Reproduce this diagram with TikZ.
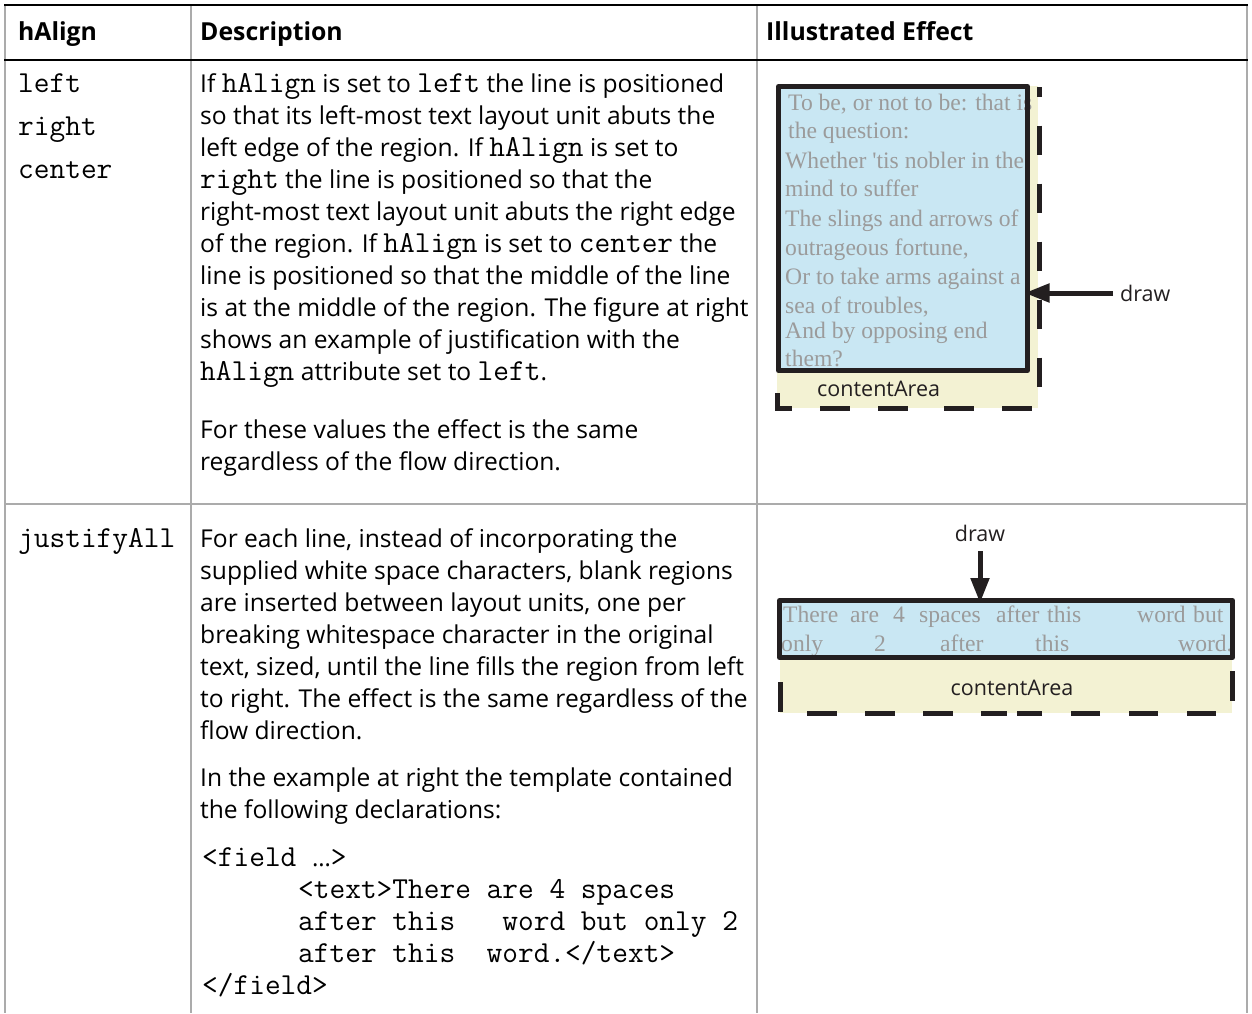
\documentclass[tikz,border=0pt]{standalone}
\usepackage{fontspec}
\setmainfont{Open Sans}
\newfontfamily\serf{Liberation Serif}
\newcommand{\monof}{\ttfamily}
\usetikzlibrary{arrows.meta}
\definecolor{rulegray}{HTML}{ABABAB}
\definecolor{ink}{HTML}{231F20}
\definecolor{boxblue}{HTML}{C9E7F3}
\definecolor{boxbeige}{HTML}{F3F2D3}
\definecolor{poem}{HTML}{9B9B9B}
\newcommand{\cw}[1]{{\monof\fontsize{30.5}{32}\selectfont #1}}
\tikzset{
  txt/.style={anchor=base west, inner sep=0pt, font=\fontsize{24.6}{32}\selectfont},
  hdr/.style={anchor=base west, inner sep=0pt, font=\fontsize{24.8}{32}\selectfont\bfseries},
  code/.style={anchor=base west, inner sep=0pt, font=\monof\fontsize{30.5}{32}\selectfont},
  poemtxt/.style={anchor=base west, inner sep=0pt, text=poem, font=\serf\fontsize{23.6}{28}\selectfont},
  lbl/.style={inner sep=0pt, text=ink, font=\fontsize{21.5}{24}\selectfont},
  thickrule/.style={line width=2.5pt, black},
  thinrule/.style={line width=1.5pt, rulegray},
  bluefill/.style={rectangle, fill=boxblue, draw=none, inner sep=0pt, outer sep=0pt},
  boxedge/.style={draw=ink, line width=5pt, line join=round},
  areafill/.style={fill=boxbeige},
  areadash/.style={draw=ink, line width=5pt, dash pattern=on 29.5pt off 28.5pt},
  ptr/.style={draw=ink, line width=5pt, -{Triangle[length=25pt,width=18pt]}}
}
\begin{document}
\begin{tikzpicture}[x=1pt,y=-1pt]
\useasboundingbox[fill=white] (0,0) rectangle (1252,1013);
% table rules
\draw[thinrule] (5,5) -- (5,1013);
\draw[thinrule] (191,5) -- (191,1013);
\draw[thinrule] (757,5) -- (757,1013);
\draw[thinrule] (1247,5) -- (1247,1013);
\draw[thinrule] (5,504) -- (1247,504);
\draw[thickrule] (4,5) -- (1248,5);
\draw[thickrule] (4,60) -- (1248,60);
% header
\node[hdr] (h1) at (18,40) {hAlign};
\node[hdr] (h2) at (200,40) {Description};
\node[hdr] (h3) at (766,40) {Illustrated Effect};
% row 1, first column
\node[code] (v1) at (18,92) {left};
\node[code] (v2) at (18,135) {right};
\node[code] (v3) at (18,178) {center};
% row 1, description
\node[txt] (d1) at (200,92) {If \cw{hAlign} is set to \cw{left} the line is positioned};
\node[txt] (d2) at (200,124) {so that its left-most text layout unit abuts the};
\node[txt] (d3) at (200,156) {left edge of the region. If \cw{hAlign} is set to};
\node[txt] (d4) at (200,188) {\cw{right} the line is positioned so that the};
\node[txt] (d5) at (200,220) {right-most text layout unit abuts the right edge};
\node[txt] (d6) at (200,252) {of the region. If \cw{hAlign} is set to \cw{center} the};
\node[txt] (d7) at (200,284) {line is positioned so that the middle of the line};
\node[txt] (d8) at (200,316) {is at the middle of the region. The figure at right};
\node[txt] (d9) at (200,348) {shows an example of justification with the};
\node[txt] (d10) at (200,380) {\cw{hAlign} attribute set to \cw{left}.};
\node[txt] (d11) at (200,438) {For these values the effect is the same};
\node[txt] (d12) at (200,470) {regardless of the flow direction.};
% row 1, illustration
\fill[areafill] (777,86) rectangle (1038,408);
\node[bluefill, minimum width=249pt, minimum height=284pt] (boxA) at (903,228.5) {};
\node[poemtxt] (p1) at (788,110) {To be, or not to be: that is};
\node[poemtxt] (p2) at (788,138) {the question:};
\node[poemtxt] (p3) at (785,168) {Whether 'tis nobler in the};
\node[poemtxt] (p4) at (785,196) {mind to suffer};
\node[poemtxt] (p5) at (785,226) {The slings and arrows of};
\node[poemtxt] (p6) at (785,255) {outrageous fortune,};
\node[poemtxt] (p7) at (785,284) {Or to take arms against a};
\node[poemtxt] (p8) at (785,313) {sea of troubles,};
\node[poemtxt] (p9) at (785,338) {And by opposing end};
\node[poemtxt] (p10) at (785,366) {them?};
\draw[boxedge] (boxA.north west) rectangle (boxA.south east);
\draw[areadash] (777,393) -- (777,408) -- (916,408);
\draw[areadash, dash phase=19.5pt] (1039,87) -- (1039,408) -- (944,408);
\node[lbl, anchor=west] (caA) at (817,389) {contentArea};
\node[lbl, anchor=west] (lblA) at (1120,293) {draw};
\draw[ptr, shorten <=7pt, shorten >=-3pt] (lblA.west) -- (lblA.west -| boxA.east);
% row 2, first column
\node[code] (v4) at (18,547) {justifyAll};
% row 2, description
\node[txt] (e1) at (200,547) {For each line, instead of incorporating the};
\node[txt] (e2) at (200,579) {supplied white space characters, blank regions};
\node[txt] (e3) at (200,611) {are inserted between layout units, one per};
\node[txt] (e4) at (200,643) {breaking whitespace character in the original};
\node[txt] (e5) at (200,675) {text, sized, until the line fills the region from left};
\node[txt] (e6) at (200,707) {to right. The effect is the same regardless of the};
\node[txt] (e7) at (200,739) {flow direction.};
\node[txt] (e8) at (200,786) {In the example at right the template contained};
\node[txt] (e9) at (200,818) {the following declarations:};
\node[code] (c1) at (202,866) {<field {\normalfont\fontsize{24}{32}\selectfont …}>};
\node[code] (c2) at (298,898) {<text>There are 4 spaces};
\node[code] (c3) at (298,930) {after this\ \ \ word but only 2};
\node[code] (c4) at (298,962) {after this\ \ word.</text>};
\node[code] (c5) at (202,994) {</field>};
% row 2, illustration
\fill[areafill] (780,640) rectangle (1232,713);
\node[bluefill, minimum width=453pt, minimum height=57pt] (boxB) at (1006,629) {};
\node[poemtxt] (q1) at (783,622) {There};
\node[poemtxt] (q2) at (850,622) {are};
\node[poemtxt] (q3) at (893,622) {4};
\node[poemtxt] (q4) at (919,622) {spaces};
\node[poemtxt] (q5) at (996,622) {after};
\node[poemtxt] (q6) at (1047,622) {this};
\node[poemtxt] (q7) at (1137,622) {word};
\node[poemtxt] (q8) at (1193,622) {but};
\node[poemtxt] (r1) at (781,651) {only};
\node[poemtxt] (r2) at (874,651) {2};
\node[poemtxt] (r3) at (940,651) {after};
\node[poemtxt] (r4) at (1035,651) {this};
\node[poemtxt] (r5) at (1178,651) {word.};
\draw[boxedge] (boxB.north west) rectangle (boxB.south east);
\draw[areadash] (780,682) -- (780,713) -- (1007,713);
\draw[areadash] (1232,671) -- (1232,713) -- (1017,713);
\node[lbl] (caB) at (1012,688) {contentArea};
\node[lbl] (lblB) at (980,533) {draw};
\draw[ptr, shorten <=10pt, shorten >=-2.5pt] (lblB.south) -- (lblB.south |- boxB.north);
\end{tikzpicture}
\end{document}
